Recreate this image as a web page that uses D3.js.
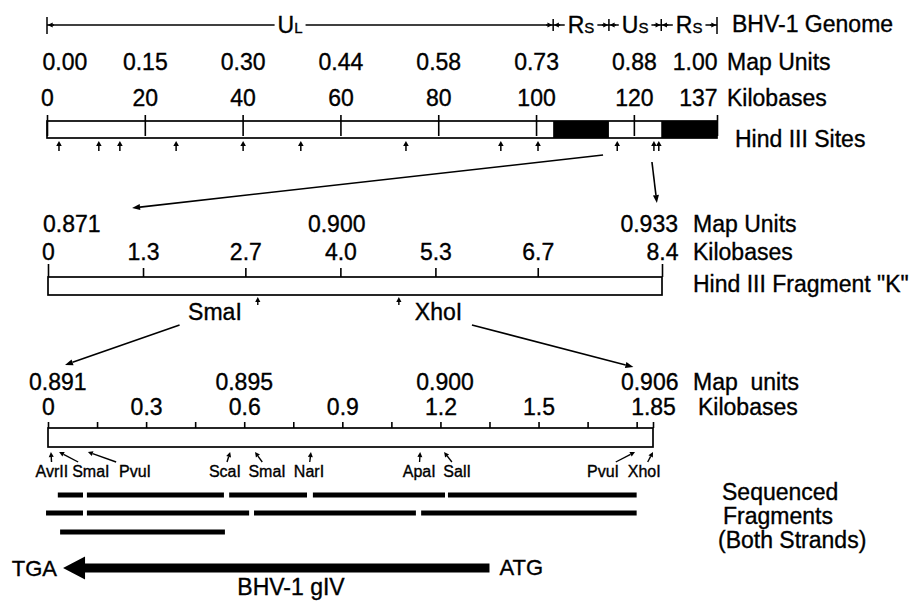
<!DOCTYPE html>
<html><head><meta charset="utf-8">
<script src="https://cdn.jsdelivr.net/npm/d3@7"></script>
<style>
body{margin:0;background:#fff}
svg{display:block}
text{font-family:"Liberation Sans",Arial,Helvetica,sans-serif;fill:#000;stroke:#000;stroke-width:0.35px}
</style>
</head><body>
<svg id="c" width="909" height="601"></svg>
<script>
// ---------------- DATA ----------------
const genomeSegNames = ["U","R","U","R"];
const genomeSegSubs  = ["L","S","S","S"];
const genomeSegBounds = [0, 103.5, 114.9, 125.6, 137];       // kb
const genomeRepeats = [[103.5, 114.9], [125.6, 137]];        // black boxes, kb
const genomeKbTicks = [0, 20, 40, 60, 80, 100, 120, 137];
const genomeMapUnits = ["0.00","0.15","0.30","0.44","0.58","0.73","0.88","1.00"];
const hindIIISites = [2.45, 10.6, 14.9, 26.4, 40.1, 51.9, 73.4, 92.8, 100.4, 116.6, 124.1, 125.1];

const fragKTicks = [0, 1.3, 2.7, 4.0, 5.3, 6.7, 8.4];
const fragKMapUnits = ["0.871", "0.900", "0.933"];
const fragKMapUnitKb = [0, 3.95, 8.4];
const fragKSiteNames = ["SmaI", "XhoI"];
const fragKSiteKb = [2.87, 4.80];

const subTicks = [0, 0.15, 0.3, 0.45, 0.6, 0.75, 0.9, 1.05, 1.2, 1.35, 1.5, 1.65, 1.8, 1.85];
const subTickLabels = [0, 0.3, 0.6, 0.9, 1.2, 1.5, 1.85];
const subMapUnits = ["0.891", "0.895", "0.900", "0.906"];
const subMapUnitKb = [0.03, 0.6, 1.214, 1.84];
const subSiteNames = ["AvrII","SmaI","PvuI","ScaI","SmaI","NarI","ApaI","SalI","PvuI","XhoI"];
const subSiteKb    = [0.009, 0.034, 0.122, 0.557, 0.633, 0.804, 1.138, 1.211, 1.795, 1.85];
const subSiteLabelKb = [0.012, 0.131, 0.266, 0.541, 0.670, 0.798, 1.135, 1.251, 1.697, 1.823];

const seqRow1 = [[0.03,0.107],[0.119,0.538],[0.554,0.792],[0.81,1.214],[1.223,1.80]];
const seqRow2 = [[-0.006,0.107],[0.119,0.615],[0.63,1.125],[1.141,1.80]];
const seqRow3 = [[0.037,0.541]];

const geneName = "BHV-1 gIV";
const geneStartCodon = "ATG", geneStopCodon = "TGA";
const geneStartKb = 1.35, geneEndKb = 0.046;

// ---------------- LAYOUT ----------------
const FONT = 23, SMALL = 16;
const svg = d3.select("#c");
const xG = d3.scaleLinear([0, 137], [47, 717]);
const xK = d3.scaleLinear([0, 8.4], [48, 662]);
const xS = d3.scaleLinear([0, 1.85], [48, 653]);

function arrow(g, x1, y1, x2, y2, len = 8, hw = 3, sw = 1.5) {
  const a = Math.atan2(y2 - y1, x2 - x1);
  const bx = x2 - len * Math.cos(a), by = y2 - len * Math.sin(a);
  g.append("line").attr("x1", x1).attr("y1", y1).attr("x2", bx).attr("y2", by)
    .attr("stroke", "#000").attr("stroke-width", sw);
  const px = -Math.sin(a) * hw, py = Math.cos(a) * hw;
  g.append("path").attr("d", `M${x2},${y2}L${bx + px},${by + py}L${bx - px},${by - py}Z`).attr("fill", "#000");
}
function label(x, y, t, anchor = "start", size = FONT) {
  return svg.append("text").attr("x", x).attr("y", y).attr("text-anchor", anchor)
    .attr("font-size", size).text(t);
}
function styleAxis(g) {
  g.select(".domain").remove();
  g.attr("font-size", FONT).attr("font-family", null);
  g.selectAll("line").attr("stroke-width", 1.6);
}

// ---- genome segment line ----
const lineY = 25;
const gl = svg.append("g");
gl.append("line").attr("x1", xG(0)).attr("x2", xG(137)).attr("y1", lineY).attr("y2", lineY)
  .attr("stroke", "#000").attr("stroke-width", 1.5);
genomeSegNames.forEach((n, i) => {
  const mid = (xG(genomeSegBounds[i]) + xG(genomeSegBounds[i + 1])) / 2 - (i === 0 ? 10 : 0);
  const r = gl.append("rect").attr("fill", "#fff");
  const t = gl.append("text").attr("x", mid).attr("y", lineY + 8).attr("text-anchor", "middle");
  t.append("tspan").attr("font-size", 23).text(n);
  t.append("tspan").attr("font-size", 15).text(genomeSegSubs[i]);
  const b = t.node().getBBox();
  r.attr("x", b.x - 3).attr("y", lineY - 3).attr("width", b.width + 6).attr("height", 6);
});
genomeSegBounds.forEach((b, i) => {
  const x = xG(b);
  const end = (i === 0 || i === genomeSegBounds.length - 1);
  gl.append("line").attr("x1", x).attr("x2", x).attr("y1", end ? 17 : 19).attr("y2", end ? 34 : 31)
    .attr("stroke", "#000").attr("stroke-width", 1.5);
  if (i > 0) arrow(gl, x - 7, lineY, x - 0.7, lineY, 5, 2.5, 1.5);
  if (i < genomeSegBounds.length - 1) arrow(gl, x + 7, lineY, x + 0.7, lineY, 5, 2.5, 1.5);
});
label(732, 32, "BHV-1 Genome");

// ---- genome bar ----
const gTop = 121, gH = 17;
svg.append("rect").attr("x", xG(0)).attr("y", gTop).attr("width", xG(137) - xG(0)).attr("height", gH)
  .attr("fill", "#fff").attr("stroke", "#000").attr("stroke-width", 1.7);
svg.selectAll("rect.rep").data(genomeRepeats).join("rect").attr("class", "rep")
  .attr("x", d => xG(d[0])).attr("y", gTop).attr("width", d => xG(d[1]) - xG(d[0])).attr("height", gH)
  .attr("fill", "#000");
const gk = svg.append("g").attr("transform", "translate(0,136)")
  .call(d3.axisTop(xG).tickValues(genomeKbTicks).tickSizeInner(21).tickSizeOuter(0).tickPadding(9).tickFormat(d3.format("d")));
styleAxis(gk);
gk.selectAll(".tick").filter((d, i) => i === genomeKbTicks.length - 1).select("text").attr("text-anchor", "end");
const gm = svg.append("g").attr("transform", "translate(0,70)")
  .call(d3.axisTop(xG).tickValues(genomeKbTicks).tickSize(0).tickPadding(0).tickFormat((d, i) => genomeMapUnits[i]));
styleAxis(gm);
gm.selectAll(".tick").filter((d, i) => i === 0).select("text").attr("text-anchor", "start").attr("x", -5);
gm.selectAll(".tick").filter((d, i) => i === genomeKbTicks.length - 1).select("text").attr("text-anchor", "end");
label(727, 70, "Map Units");
label(727, 106, "Kilobases");
const hs = svg.append("g");
hindIIISites.forEach(k => arrow(hs, xG(k), 151, xG(k), 141, 5, 2.8, 1.5));
label(735, 147, "Hind III Sites");

// ---- connectors genome -> fragment K ----
const cg = svg.append("g");
arrow(cg, xG(113.7), 155, xK(1.15), 208, 8, 3, 1.6);
arrow(cg, xG(123.7), 162, xK(8.33), 203, 8, 3, 1.6);

// ---- fragment K ----
const kTop = 277, kH = 18;
svg.append("rect").attr("x", xK(0)).attr("y", kTop).attr("width", xK(8.4) - xK(0)).attr("height", kH)
  .attr("fill", "#fff").attr("stroke", "#000").attr("stroke-width", 1.7);
const gkk = svg.append("g").attr("transform", `translate(0,${kTop})`)
  .call(d3.axisTop(xK).tickValues(fragKTicks).tickSizeInner(9).tickSizeOuter(0).tickPadding(8)
    .tickFormat(d => d === 0 ? "0" : d3.format(".1f")(d)));
styleAxis(gkk);
gkk.selectAll(".tick").filter((d, i) => i === 0 || i === fragKTicks.length - 1).select("line").attr("y2", -13);
fragKMapUnits.forEach((m, i) => {
  const last = i === fragKMapUnits.length - 1;
  const anchor = i === 0 ? "start" : (last ? "end" : "middle");
  const dx = i === 0 ? -5 : (last ? 16 : 0);
  label(xK(fragKMapUnitKb[i]) + dx, 232, m, anchor);
});
label(693, 232, "Map Units");
label(693, 260, "Kilobases");
label(693, 292, "Hind III Fragment \"K\"");
const ks = svg.append("g");
fragKSiteKb.forEach((k, i) => {
  arrow(ks, xK(k), 305, xK(k), 297, 5, 2.6, 1.4);
  if (i === 0) label(xK(k) - 16, 320, fragKSiteNames[i], "end");
  else label(xK(k) + 16, 320, fragKSiteNames[i], "start");
});

// ---- connectors fragment K -> subfragment ----
arrow(cg, xK(1.8), 325, xS(0.052), 365, 8, 3, 1.6);
arrow(cg, xK(5.8), 325, xS(1.79), 367, 8, 3, 1.6);

// ---- subfragment ----
const sTop = 428, sH = 19;
svg.append("rect").attr("x", xS(0)).attr("y", sTop).attr("width", xS(1.85) - xS(0)).attr("height", sH)
  .attr("fill", "#fff").attr("stroke", "#000").attr("stroke-width", 1.7);
const gs = svg.append("g").attr("transform", `translate(0,${sTop})`)
  .call(d3.axisTop(xS).tickValues(subTicks).tickSizeInner(6).tickSizeOuter(0).tickPadding(7)
    .tickFormat(d => subTickLabels.includes(d) ? (d === 0 ? "0" : (d === 1.85 ? "1.85" : d3.format(".1f")(d))) : ""));
styleAxis(gs);
subMapUnits.forEach((m, i) => label(xS(subMapUnitKb[i]), 390, m, "middle"));
label(693, 390, "Map  units").attr("xml:space", "preserve").style("white-space", "pre");
label(698, 415, "Kilobases");
const ss = svg.append("g");
subSiteKb.forEach((k, i) => {
  const tip = xS(k), lx = xS(subSiteLabelKb[i]);
  const tail = lx + (tip - lx) * 0.4;
  arrow(ss, tail, 462, tip, 452, 5, 2.5, 1.4);
  label(lx, 477, subSiteNames[i], "middle", SMALL);
});

// ---- sequenced fragments ----
const sf = svg.append("g");
[[seqRow1, 495], [seqRow2, 513], [seqRow3, 532]].forEach(([row, y]) => {
  sf.selectAll(null).data(row).join("line")
    .attr("x1", d => xS(d[0])).attr("x2", d => xS(d[1])).attr("y1", y).attr("y2", y)
    .attr("stroke", "#000").attr("stroke-width", 5);
});
label(722, 500, "Sequenced");
label(723, 524, "Fragments");
label(718, 548, "(Both Strands)");

// ---- gene arrow ----
const gy = 568, tipX = xS(geneEndKb), tailX = xS(geneStartKb);
const headLen = 22, headHW = 11.5, shaftHW = 4.5;
svg.append("path").attr("fill", "#000").attr("d",
  `M${tipX},${gy}L${tipX + headLen},${gy - headHW}L${tipX + headLen},${gy - shaftHW}L${tailX},${gy - shaftHW}` +
  `L${tailX},${gy + shaftHW}L${tipX + headLen},${gy + shaftHW}L${tipX + headLen},${gy + headHW}Z`);
label(tipX - 6, 576, geneStopCodon, "end", 22);
label(tailX + 10, 575, geneStartCodon, "start", 22);
label(291, 595, geneName, "middle");
</script>
</body></html>
